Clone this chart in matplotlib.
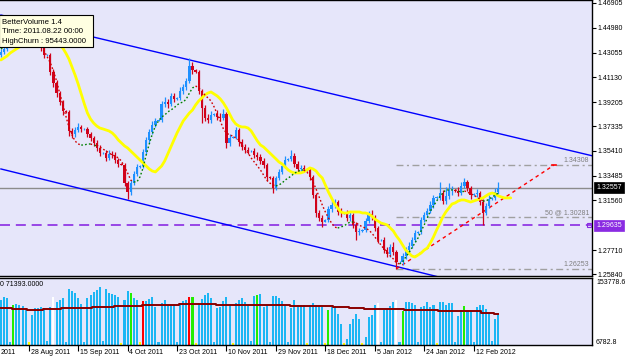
import matplotlib.pyplot as plt
import matplotlib.transforms as mtransforms
from matplotlib.patches import Rectangle

plt.rcParams["font.family"] = ["Liberation Sans", "DejaVu Sans"]

W, H = 625, 362

# daily EURUSD bars, prices in 1/10000 (one row = one week, Sunday bar is 4th)
opens = [
    14290, 14310, 14333, 14364, 14372, 14403,
    14411, 14403, 14442, 14427, 14427, 14388,
    14403, 14372, 14341, 14287, 14287, 14155,
    14069, 13991, 13921, 13852, 13844, 13696,
    13673, 13704, 13727, 13712, 13712, 13673,
    13642, 13603, 13564, 13525, 13525, 13486,
    13517, 13510, 13471, 13440, 13432, 13292,
    13222, 13292, 13362, 13416, 13424, 13533,
    13626, 13688, 13743, 13774, 13782, 13906,
    13921, 13906, 13968, 13945, 13953, 14007,
    14038, 14085, 14201, 14170, 14155, 14007,
    13875, 13797, 13782, 13820, 13828, 13805,
    13797, 13828, 13603, 13642, 13649, 13704,
    13611, 13572, 13549, 13541, 13541, 13510,
    13494, 13463, 13432, 13339, 13331, 13253,
    13331, 13378, 13424, 13471, 13479, 13502,
    13440, 13401, 13409, 13401, 13393, 13339,
    13199, 13059, 13020, 12989, 13005, 13090,
    13121, 13144, 13067, 13059, 13059, 13020,
    13044, 12966, 12911, 12919, 12927, 12997,
    13051, 13028, 12942, 12849, 12849, 12771,
    12740, 12795, 12756, 12678, 12678, 12725,
    12771, 12803, 12849, 12904, 12911, 13005,
    13044, 13075, 13121, 13176, 13183, 13214,
    13152, 13191, 13238, 13238, 13230, 13214,
    13269, 13300, 13253, 13199, 13207, 13214,
    13144, 13059, 13113, 13168, 13176, 13222,
]
highs = [
    14335, 14360, 14390, 14380, 14430, 14445,
    14440, 14470, 14460, 14435, 14445, 14425,
    14420, 14390, 14360, 14295, 14300, 14175,
    14090, 14010, 13940, 13858, 13860, 13720,
    13730, 13760, 13745, 13720, 13730, 13690,
    13660, 13625, 13585, 13532, 13545, 13545,
    13540, 13530, 13490, 13446, 13450, 13310,
    13315, 13385, 13440, 13430, 13555, 13650,
    13710, 13770, 13800, 13790, 13930, 13960,
    13945, 13990, 13995, 13960, 14035, 14065,
    14110, 14263, 14235, 14175, 14170, 14025,
    13900, 13830, 13850, 13835, 13860, 13835,
    13870, 13845, 13670, 13655, 13730, 13720,
    13630, 13595, 13575, 13548, 13565, 13530,
    13515, 13485, 13450, 13345, 13350, 13350,
    13400, 13450, 13500, 13485, 13549, 13525,
    13460, 13435, 13430, 13405, 13410, 13355,
    13215, 13080, 13045, 13012, 13115, 13150,
    13170, 13160, 13095, 13066, 13080, 13070,
    13060, 12985, 12945, 12933, 13020, 13075,
    13080, 13045, 12960, 12856, 12870, 12795,
    12820, 12830, 12775, 12686, 12750, 12795,
    12830, 12875, 12930, 12918, 13030, 13070,
    13100, 13150, 13200, 13190, 13300, 13240,
    13260, 13290, 13270, 13245, 13260, 13300,
    13331, 13315, 13270, 13213, 13245, 13230,
    13165, 13140, 13200, 13182, 13250, 13300,
]
lows = [
    14270, 14295, 14320, 14360, 14350, 14385,
    14380, 14390, 14400, 14420, 14365, 14370,
    14350, 14320, 14260, 14280, 14130, 14040,
    13960, 13895, 13820, 13838, 13660, 13640,
    13650, 13690, 13690, 13705, 13650, 13615,
    13580, 13540, 13500, 13518, 13460, 13470,
    13485, 13450, 13415, 13428, 13270, 13168,
    13200, 13275, 13345, 13410, 13405, 13515,
    13605, 13670, 13725, 13770, 13765, 13880,
    13875, 13890, 13920, 13940, 13935, 13985,
    14015, 14070, 14140, 14150, 13985, 13760,
    13770, 13755, 13760, 13815, 13780, 13770,
    13780, 13560, 13580, 13638, 13630, 13580,
    13545, 13525, 13515, 13535, 13485, 13470,
    13440, 13410, 13310, 13325, 13214, 13235,
    13315, 13360, 13405, 13465, 13460, 13420,
    13380, 13385, 13375, 13388, 13315, 13175,
    13030, 12995, 12950, 12985, 12985, 13070,
    13100, 13045, 13030, 13052, 13000, 13000,
    12940, 12849, 12890, 12914, 12910, 12980,
    13005, 12920, 12826, 12842, 12745, 12715,
    12720, 12735, 12625, 12670, 12655, 12700,
    12750, 12785, 12830, 12898, 12895, 12985,
    13025, 13055, 13100, 13170, 13160, 13125,
    13130, 13170, 13200, 13225, 13190, 13200,
    13250, 13230, 13170, 13193, 13185, 13120,
    12966, 13040, 13095, 13162, 13160, 13210,
]
closes = [
    14310, 14333, 14364, 14372, 14403, 14411,
    14403, 14442, 14427, 14427, 14388, 14403,
    14372, 14341, 14287, 14287, 14155, 14069,
    13991, 13921, 13852, 13844, 13696, 13673,
    13704, 13727, 13712, 13712, 13673, 13642,
    13603, 13564, 13525, 13525, 13486, 13517,
    13510, 13471, 13440, 13432, 13292, 13222,
    13292, 13362, 13416, 13424, 13533, 13626,
    13688, 13743, 13774, 13782, 13906, 13921,
    13906, 13968, 13945, 13953, 14007, 14038,
    14085, 14201, 14170, 14155, 14007, 13875,
    13797, 13782, 13820, 13828, 13805, 13797,
    13828, 13603, 13642, 13649, 13704, 13611,
    13572, 13549, 13541, 13541, 13510, 13494,
    13463, 13432, 13339, 13331, 13253, 13331,
    13378, 13424, 13471, 13479, 13502, 13440,
    13401, 13409, 13401, 13393, 13339, 13199,
    13059, 13020, 12989, 13005, 13090, 13121,
    13144, 13067, 13059, 13059, 13020, 13044,
    12966, 12911, 12919, 12927, 12997, 13051,
    13028, 12942, 12849, 12849, 12771, 12740,
    12795, 12756, 12678, 12678, 12725, 12771,
    12803, 12849, 12904, 12911, 13005, 13044,
    13075, 13121, 13176, 13183, 13214, 13152,
    13191, 13238, 13238, 13230, 13214, 13269,
    13300, 13253, 13199, 13207, 13214, 13144,
    13059, 13113, 13168, 13176, 13222, 13256,
]
# yellow moving average (drawn shifted, so it runs 4 bars past the last candle)
ma_slow = [
    14248, 14263, 14279, 14302, 14318, 14333,
    14349, 14364, 14380, 14395, 14403, 14419,
    14427, 14427, 14427, 14419, 14403, 14395,
    14380, 14364, 14341, 14302, 14256, 14193,
    14131, 14061, 13984, 13906, 13836, 13789,
    13758, 13735, 13719, 13712, 13704, 13696,
    13681, 13657, 13626, 13603, 13580, 13564,
    13541, 13517, 13494, 13471, 13447, 13424,
    13401, 13385, 13378, 13401, 13424, 13463,
    13517, 13572, 13626, 13681, 13727, 13774,
    13805, 13836, 13859, 13898, 13929, 13953,
    13976, 13991, 13999, 13984, 13968, 13945,
    13914, 13875, 13828, 13782, 13751, 13735,
    13727, 13727, 13719, 13696, 13657, 13618,
    13587, 13572, 13549, 13525, 13502, 13479,
    13455, 13440, 13416, 13393, 13378, 13370,
    13370, 13370, 13378, 13393, 13409, 13401,
    13385, 13354, 13331, 13277, 13222, 13176,
    13129, 13098, 13067, 13059, 13059, 13067,
    13067, 13067, 13067, 13059, 13059, 13051,
    13036, 13012, 12997, 12981, 12974, 12966,
    12942, 12919, 12880, 12849, 12810, 12771,
    12748, 12725, 12717, 12733, 12748, 12771,
    12787, 12826, 12873, 12927, 12974, 13028,
    13067, 13098, 13129, 13137, 13152, 13160,
    13160, 13152, 13144, 13152, 13160, 13168,
    13176, 13191, 13207, 13214, 13207, 13191,
    13183, 13176, 13176, 13176,
]
# dotted fast average (green when rising, red when falling)
ma_fast = [
    14333, 14349, 14364, 14380, 14388, 14395,
    14403, 14411, 14411, 14411, 14403, 14395,
    14388, 14357, 14318, 14271, 14225, 14162,
    14085, 13991, 13906, 13813, 13727, 13665,
    13618, 13595, 13587, 13587, 13595, 13595,
    13587, 13587, 13572, 13556, 13541, 13525,
    13510, 13502, 13486, 13463, 13416, 13370,
    13315, 13300, 13300, 13339, 13409, 13510,
    13595, 13673, 13735, 13774, 13805, 13820,
    13844, 13859, 13875, 13898, 13914, 13921,
    13945, 13991, 14030, 14046, 14030, 14007,
    13976, 13953, 13929, 13883, 13828, 13774,
    13712, 13681, 13665, 13657, 13642, 13626,
    13587, 13556, 13525, 13486, 13455, 13424,
    13393, 13354, 13315, 13292, 13277, 13269,
    13277, 13292, 13315, 13331, 13347, 13370,
    13378, 13393, 13393, 13378, 13347, 13300,
    13245, 13183, 13121, 13067, 13020, 12981,
    12950, 12942, 12950, 12958, 12974, 12989,
    12989, 12981, 12966, 12950, 12942, 12927,
    12904, 12873, 12841, 12810, 12779, 12756,
    12725, 12702, 12671, 12663, 12678, 12717,
    12748, 12787, 12826, 12865, 12919, 12966,
    13020, 13075, 13113, 13152, 13183, 13214,
    13238, 13238, 13238, 13238, 13230, 13230,
    13230, 13222, 13207, 13199, 13183, 13168,
    13152, 13152, 13168, 13183, 13199, 13214,
]

# BetterVolume histogram
volumes = [
    104800, 111500, 109200, 14000, 95443, 95900,
    93600, 91400, 86900, 12500, 73600, 86900,
    86900, 89200, 86900, 15000, 89200, 111500,
    100300, 104800, 109200, 14000, 129300, 124800,
    120400, 109200, 95900, 13500, 109200, 115900,
    122600, 127000, 133700, 14500, 129300, 120400,
    118100, 115900, 111500, 12000, 104800, 124800,
    120400, 109200, 104800, 12500, 102500, 102500,
    107000, 111500, 89200, 14000, 98100, 104800,
    93600, 93600, 93600, 13000, 98100, 102500,
    104800, 111500, 111500, 12000, 98100, 107000,
    115900, 120400, 109200, 14000, 86900, 89200,
    102500, 111500, 93600, 12000, 98100, 104800,
    109200, 100300, 93600, 14500, 113700, 115900,
    118100, 89200, 93600, 14000, 113700, 113700,
    109200, 102500, 93600, 13500, 86900, 104800,
    93600, 93600, 93600, 12000, 93600, 98100,
    93600, 91400, 89200, 12000, 82500, 89200,
    89200, 75800, 53500, 11500, 20100, 53500,
    64700, 75800, 64700, 11500, 24600, 69100,
    73600, 93600, 98100, 13500, 82500, 84700,
    91400, 100300, 104800, 14000, 80300, 100300,
    100300, 98100, 93600, 14000, 89200, 91400,
    100300, 89200, 93600, 12000, 100300, 100300,
    93600, 98100, 98100, 14000, 71400, 82500,
    91400, 80300, 80300, 14000, 89200, 93600,
    93600, 84700, 78000, 15000, 64700, 75800,
]
vol_avg = [
    86900, 86900, 86900, 86900, 84700, 84700,
    84700, 84700, 84700, 82500, 82500, 82500,
    82500, 82500, 84700, 84700, 84700, 84700,
    84700, 84700, 86900, 86900, 86900, 86900,
    86900, 86900, 86900, 86900, 86900, 86900,
    89200, 89200, 89200, 89200, 89200, 89200,
    89200, 91400, 91400, 91400, 91400, 91400,
    91400, 91400, 91400, 91400, 93600, 93600,
    93600, 93600, 93600, 93600, 93600, 93600,
    93600, 93600, 93600, 93600, 95900, 95900,
    95900, 95900, 95900, 95900, 95900, 95900,
    95900, 95900, 95900, 95900, 93600, 93600,
    93600, 93600, 93600, 93600, 93600, 93600,
    93600, 93600, 93600, 93600, 93600, 93600,
    93600, 93600, 93600, 93600, 93600, 93600,
    93600, 93600, 93600, 93600, 91400, 91400,
    91400, 91400, 91400, 91400, 91400, 91400,
    91400, 91400, 91400, 91400, 91400, 91400,
    89200, 89200, 89200, 89200, 89200, 86900,
    86900, 86900, 86900, 86900, 84700, 84700,
    84700, 84700, 84700, 84700, 84700, 84700,
    84700, 84700, 84700, 84700, 84700, 82500,
    82500, 82500, 82500, 82500, 82500, 82500,
    82500, 82500, 82500, 82500, 80300, 80300,
    80300, 80300, 80300, 80300, 80300, 80300,
    80300, 80300, 80300, 80300, 80300, 80300,
    78000, 78000, 78000, 78000, 75800, 75800,
]
churn_bars = [4, 42, 62, 83, 106, 130, 150]
climax_up_bars = [46, 61]
climax_down_bars = [17, 122, 128]
low_vol_bars = [9, 39, 45, 63, 75, 99, 105, 111, 117, 141]

price_ticks = [1.46905, 1.44980, 1.43055, 1.41130, 1.39205, 1.37335,
               1.35410, 1.33485, 1.31560, 1.27710, 1.25840]
date_bars = [9, 25, 41, 57, 73, 89, 105, 121, 137, 153]
date_labels = ["28 Aug 2011", "15 Sep 2011", "4 Oct 2011",
               "23 Oct 2011", "10 Nov 2011", "29 Nov 2011", "18 Dec 2011",
               "5 Jan 2012", "24 Jan 2012", "12 Feb 2012"]
# only the tail of the "9 Aug 2011" label is inside the window
cut_label = "2011"

# drawn objects: (bar, price) end points
upper_channel = [(0, 1.4597), (191.6, 1.3502)]
lower_channel = [(0, 1.3401), (142.0, 1.2560)]
fib_low = (128, 1.26253)
fib_high = (179, 1.34308)
fib_levels = [(1.34308, "1.34308"), (1.30281, "50 @ 1.30281"), (1.26253, "1.26253")]
last_price = 1.32557
purple_level = 1.29635

BG = "#E6E6FA"
BULL = "#1E90FF"
BEAR = "#D0021B"

fig = plt.figure(figsize=(W / 100, H / 100), dpi=100)
fig.patch.set_facecolor("white")
ax = fig.add_axes([0, 1 - 276 / H, 592 / W, 276 / H])
axv = fig.add_axes([0, 1 - 345 / H, 592 / W, 67 / H], sharex=ax)
for a in (ax, axv):
    a.set_facecolor(BG)
    a.spines["left"].set_visible(False)
    for s in ("top", "right", "bottom"):
        a.spines[s].set_linewidth(1.0)
        a.spines[s].set_color("black")

xlim = (-0.3, 191.3)
ax.set_xlim(*xlim)
ax.set_ylim(1.25693, 1.47138)

# channel lines
for line in (upper_channel, lower_channel):
    ax.plot([line[0][0], line[1][0]], [line[0][1], line[1][1]],
            color="#0000FF", lw=1.0, zorder=2)

# horizontal lines
ax.axhline(last_price, color="#8C8C8C", lw=1.0, zorder=1)
ax.axhline(purple_level, color="#8A2BE2", lw=1.2, dashes=(6, 3.5), zorder=1)
ax.plot(190.3, purple_level, marker="s", ms=3, mfc="none", mec="#8A2BE2",
        mew=0.8, zorder=3)

# fibonacci levels and its red diagonal
ytrans = mtransforms.blended_transform_factory(ax.transAxes, ax.transData)
for level, label in fib_levels:
    ax.plot([fib_low[0], xlim[1]], [level, level], color="#A0A0A0", lw=1.0,
            dashes=(5, 2.5, 1.5, 2.5), zorder=1)
    ax.text(0.995, level + 0.0006, label, transform=ytrans,
            ha="right", va="bottom", fontsize=5, color="#808080")
ax.plot([fib_low[0], fib_high[0]], [fib_low[1], fib_high[1]], color="#FF0000",
        lw=1.0, dashes=(2.5, 2.5), zorder=2)
ax.plot([fib_high[0] - 0.8, fib_high[0] + 0.8], [fib_high[1], fib_high[1]],
        color="#FF0000", lw=1.2, zorder=2)

# candles
for i, (o, h, l, c) in enumerate(zip(opens, highs, lows, closes)):
    o, h, l, c = o / 1e4, h / 1e4, l / 1e4, c / 1e4
    col = BULL if c >= o else BEAR
    ax.vlines(i, l, h, color=col, lw=0.9, zorder=3)
    ax.bar(i, max(abs(c - o), 0.00012), bottom=min(o, c), width=0.72,
           color=col, lw=0, zorder=3)

# yellow average
ax.plot(range(len(ma_slow)), [v / 1e4 for v in ma_slow], color="#FFFF00",
        lw=2.0, zorder=4, solid_capstyle="round")

# dotted fast average split into rising / falling runs
fast = [v / 1e4 for v in ma_fast]
i = 0
while i < len(fast) - 1:
    up = fast[i + 1] >= fast[i]
    j = i + 1
    while j < len(fast) - 1 and (fast[j + 1] >= fast[j]) == up:
        j += 1
    ax.plot(range(i, j + 1), fast[i:j + 1], color="#008000" if up else "#D00000",
            lw=1.0, dashes=(1.2, 1.6), zorder=4)
    i = j

# right price scale
ax.yaxis.tick_right()
ax.set_yticks(price_ticks)
ax.set_yticklabels([f"{p:.5f}" for p in price_ticks])
ax.tick_params(axis="y", length=3, width=0.8, pad=0.8, labelsize=5)
ax.tick_params(axis="x", bottom=False, labelbottom=False)

ax.text(1.0 + 4 / 592, last_price, "1.32557", transform=ytrans, ha="left",
        va="center", fontsize=5, color="white", clip_on=False, zorder=10,
        bbox=dict(boxstyle="square,pad=0.3", fc="black", ec="black", lw=0.5))
ax.text(1.0 + 4 / 592, purple_level, "1.29635", transform=ytrans, ha="left",
        va="center", fontsize=5, color="white", clip_on=False, zorder=10,
        bbox=dict(boxstyle="square,pad=0.3", fc="#8A2BE2", ec="#8A2BE2", lw=0.5))


# volume panel
def vol_color(k):
    if k in churn_bars:
        return "#22EE00"
    if k in climax_up_bars:
        return "#FF0000"
    if k in climax_down_bars:
        return "#FFFFFF"
    if k in low_vol_bars:
        return "#FFFF00"
    return "#1CB6F4"


axv.bar(range(len(volumes)), volumes, width=0.66,
        color=[vol_color(k) for k in range(len(volumes))], lw=0, zorder=2)
axv.step(range(len(vol_avg)), vol_avg, where="mid", color="#8B0000", lw=1.4, zorder=3)
axv.set_ylim(6782.8, 153778.6)
axv.set_yticks([])
axv.set_xticks(date_bars)
axv.tick_params(axis="x", length=4, width=0.8, labelbottom=False)

xtrans = mtransforms.blended_transform_factory(axv.transData, axv.transAxes)
for b, lab in zip(date_bars, date_labels):
    axv.text(b + 0.6, -0.11, lab, transform=xtrans, ha="left", va="center",
             fontsize=5, clip_on=False)


def ftext(x, y, s, **kw):
    fig.text(x / W, 1 - y / H, s, va="center", **kw)


ftext(1, 352, cut_label, fontsize=5)
ftext(596, 283, "153778.6", fontsize=5)
ftext(596, 342, "6782.8", fontsize=5)
ftext(0.5, 285, "0 71393.0000", fontsize=5)

# tooltip of the indicator
fig.add_artist(Rectangle((-1 / W, 1 - 47 / H), 94 / W, 32 / H,
                         transform=fig.transFigure, fc="#FFFFE1", ec="black",
                         lw=0.8, zorder=20))
for k, line in enumerate(["BetterVolume 1.4", "Time: 2011.08.22 00:00",
                          "HighChurn : 95443.0000"]):
    fig.text(2 / W, 1 - (22 + 9.8 * k) / H, line, fontsize=5.6, va="center",
             zorder=21)

fig.savefig("out.png", dpi=100, facecolor=fig.get_facecolor())
